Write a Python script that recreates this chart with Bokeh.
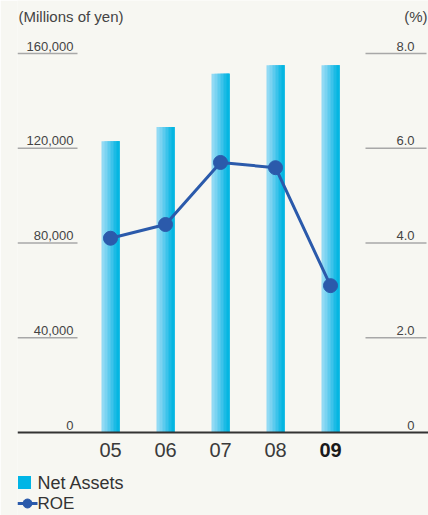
from bokeh.plotting import figure
from bokeh.models import Range1d, Span
from bokeh.core.properties import value
from bokeh.embed import file_html
from bokeh.resources import INLINE

# ---- data ----
years = ["05", "06", "07", "08", "09"]
net_assets = [123000, 129000, 151500, 155000, 155000]   # millions of yen
roe = [4.10, 4.39, 5.70, 5.59, 3.10]                    # %
left_ticks = [0, 40000, 80000, 120000, 160000]
left_tick_labels = ["0", "40,000", "80,000", "120,000", "160,000"]
right_ticks = [0, 2.0, 4.0, 6.0, 8.0]
right_tick_labels = ["0", "2.0", "4.0", "6.0", "8.0"]

BG = "#f7f7f2"
FONT = "Liberation Sans"
W, H = 428, 515

X0_PX, DX_PX = 110.0, 55.0
BASE_PX, TOP_PX = 432.0, 53.0
YMAX, RMAX = 160000.0, 8.0
LEFT_PX = 17


def xd(px):
    return (px - X0_PX) / DX_PX


def yd(py):
    return (BASE_PX - py) * YMAX / (BASE_PX - TOP_PX)


def rd(py):
    return (BASE_PX - py) * RMAX / (BASE_PX - TOP_PX)


idx = list(range(len(years)))

p = figure(width=W, height=H, output_backend="svg", toolbar_location=None,
           x_range=Range1d(xd(LEFT_PX), xd(W)), y_range=Range1d(yd(H), yd(0)),
           min_border_left=LEFT_PX, min_border_right=0, min_border_top=0, min_border_bottom=0,
           background_fill_color=BG, border_fill_color=BG, outline_line_color=None)
p.extra_y_ranges = {"roe": Range1d(rd(H), rd(0))}
p.xaxis.visible = False
p.yaxis.visible = False
p.grid.visible = False

bar_w = 18.0 / DX_PX
grad = ["#92daf4", "#7bd3f1", "#5ccbee", "#3cc3ea", "#1cbbe5", "#05b6e1"]
n = len(grad)
for k, c in enumerate(grad):
    left_off = -bar_w / 2 + k * bar_w / n
    right_off = bar_w / 2
    p.vbar(x=[i + (left_off + right_off) / 2 for i in idx], top=net_assets,
           bottom=0, width=right_off - left_off, fill_color=c, line_color=None)

lt = left_ticks[1:]
p.segment(x0=[xd(17)] * len(lt), x1=[xd(77)] * len(lt), y0=lt, y1=lt,
          line_color="#a8a8a8", line_width=1.5)
rt = right_ticks[1:]
p.segment(x0=[xd(365)] * len(rt), x1=[xd(426)] * len(rt), y0=rt, y1=rt,
          line_color="#a8a8a8", line_width=1.5, y_range_name="roe")

p.text(x=[xd(73)] * len(left_ticks), y=left_ticks, text=left_tick_labels,
       text_align="right", text_baseline="bottom", y_offset=-3,
       text_font=value(FONT), text_font_size="13px", text_color="#444444")
p.text(x=[xd(414)] * len(right_ticks), y=right_ticks, text=right_tick_labels,
       text_align="right", text_baseline="bottom", y_offset=-3,
       text_font=value(FONT), text_font_size="13px", text_color="#444444",
       y_range_name="roe")

p.text(x=[xd(18)], y=[yd(16)], text=["(Millions of yen)"], text_align="left",
       text_baseline="middle", text_font=value(FONT), text_font_size="15px",
       text_color="#444444")
p.text(x=[xd(427)], y=[yd(16)], text=["(%)"], text_align="right",
       text_baseline="middle", text_font=value(FONT), text_font_size="15px",
       text_color="#444444")

p.add_layout(Span(location=0, dimension="width", line_color="#333333", line_width=2))

styles = ["normal"] * (len(years) - 1) + ["bold"]
colors = ["#3a3a3a"] * (len(years) - 1) + ["#1a1a1a"]
p.text(x=idx, y=[yd(449)] * len(idx), text=years, text_align="center",
       text_baseline="middle", text_font=value(FONT), text_font_size="20px",
       text_font_style=styles, text_color=colors)

p.line(x=idx, y=roe, line_color="#2b5aab", line_width=3, y_range_name="roe")
p.scatter(x=idx, y=roe, size=14, fill_color="#2b5aab", line_color="#2b5aab",
          y_range_name="roe")

# legend
p.scatter(x=[xd(24)], y=[yd(482)], marker="square", size=13,
          fill_color="#00b5e6", line_color=None)
p.text(x=[xd(37)], y=[yd(482)], text=["Net Assets"], text_align="left",
       text_baseline="middle", text_font=value(FONT), text_font_size="18px",
       text_color="#333333")
p.segment(x0=[xd(17)], x1=[xd(37)], y0=[yd(503)], y1=[yd(503)],
          line_color="#2b5aab", line_width=3)
p.scatter(x=[xd(27)], y=[yd(503)], size=9, fill_color="#2b5aab",
          line_color="#2b5aab")
p.text(x=[xd(37)], y=[yd(503)], text=["ROE"], text_align="left",
       text_baseline="middle", text_font=value(FONT), text_font_size="17px",
       text_color="#333333")

open("out.html", "w").write(file_html(p, INLINE))
